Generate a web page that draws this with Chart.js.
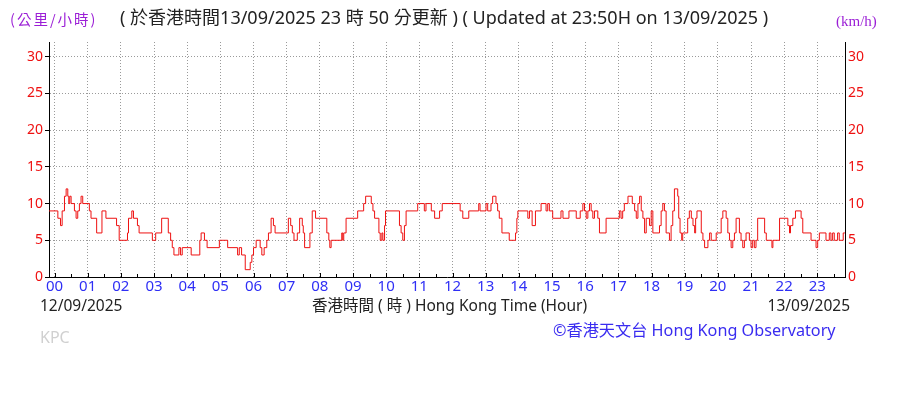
<!DOCTYPE html>
<html>
<head>
<meta charset="utf-8">
<script src="https://cdn.jsdelivr.net/npm/chart.js@4.4.0/dist/chart.umd.min.js"></script>
<style>
  html, body { margin: 0; padding: 0; background: #fff; }
  #wrap { position: relative; width: 910px; height: 395px; overflow: hidden;
          font-family: "Noto Sans", "Noto Sans CJK TC", sans-serif; }
  #chart { position: absolute; left: 0; top: 0; }
  .txt { position: absolute; white-space: nowrap; line-height: 1; }
  #unitL { left: 10px; top: 12px; font-size: 14.5px; letter-spacing: 2px; color: #9b1fd6; font-family: "Noto Sans CJK TC", sans-serif; }
  #unitR { left: 836px; top: 14px; font-size: 15px; color: #9b1fd6; font-family: "Liberation Serif", serif; }
  #title { left: 120px; top: 8px; font-size: 18px; color: #222; }
  #dateL { left: 40px; top: 298px; font-size: 15.5px; color: #222; }
  #axisName { left: 312px; top: 298px; font-size: 15.5px; color: #222; }
  #dateR { right: 60px; top: 298px; font-size: 15.5px; color: #222; }
  #kpc { left: 40px; top: 329px; font-size: 16px; color: #d0d0d0; }
  #copy { left: 553px; top: 322px; font-size: 16.2px; color: #3a2cf0; }
</style>
</head>
<body>
<div id="wrap">
  <canvas id="chart" width="910" height="395"></canvas>
  <div class="txt" id="unitL">(公里/小時)</div>
  <div class="txt" id="unitR">(km/h)</div>
  <div class="txt" id="title">( 於香港時間13/09/2025 23 時 50 分更新 ) ( Updated at 23:50H on 13/09/2025 )</div>
  <div class="txt" id="dateL">12/09/2025</div>
  <div class="txt" id="axisName">香港時間 ( 時 ) Hong Kong Time (Hour)</div>
  <div class="txt" id="dateR">13/09/2025</div>
  <div class="txt" id="kpc">KPC</div>
  <div class="txt" id="copy">©香港天文台 Hong Kong Observatory</div>
</div>
<script>
// wind speed (km/h), each value holds from its time (hours) until the next one
const hours = [
  -0.17, 0.1, 0.18, 0.23, 0.3, 0.35, 0.4, 0.43, 0.46, 0.5, 0.6, 0.65, 0.7, 0.75, 0.8, 0.85,
  1.05, 1.1, 1.27, 1.43, 1.55, 1.87, 1.95, 2.2, 2.23, 2.33, 2.38, 2.5, 2.55, 2.95,
  3.05, 3.23, 3.43, 3.5, 3.55, 3.6, 3.75, 3.8, 3.85, 4.12, 4.38, 4.42, 4.52, 4.6, 4.97,
  5.22, 5.52, 5.57, 5.64, 5.75, 5.9, 5.95, 6.0, 6.08, 6.2, 6.25, 6.32, 6.4, 6.45, 6.53,
  6.6, 6.65, 7.05, 7.12, 7.17, 7.22, 7.32, 7.39, 7.47, 7.5, 7.54, 7.7, 7.77, 7.87,
  8.21, 8.27, 8.3, 8.34, 8.66, 8.69, 8.72, 8.79, 9.14, 9.32, 9.38, 9.55, 9.6, 9.65,
  9.78, 9.82, 9.87, 9.9, 9.95, 9.98, 10.4, 10.45, 10.5, 10.55, 10.6, 10.95, 11.15, 11.2,
  11.36, 11.46, 11.61, 11.69, 12.23, 12.31, 12.49, 12.79, 12.83, 13.01, 13.06, 13.16,
  13.21, 13.31, 13.36, 13.41, 13.49, 13.71, 13.9, 13.94, 13.97, 14.27, 14.32, 14.4,
  14.5, 14.67, 14.82, 14.87, 14.92, 15.02, 15.27, 15.33, 15.51, 15.73, 15.85, 15.93,
  15.98, 16.03, 16.08, 16.13, 16.18, 16.23, 16.28, 16.38, 16.43, 16.63, 17.03, 17.08,
  17.13, 17.18, 17.29, 17.42, 17.49, 17.54, 17.59, 17.64, 17.69, 17.74, 17.79, 17.84,
  17.94, 17.99, 18.04, 18.24, 18.29, 18.34, 18.39, 18.44, 18.54, 18.59, 18.64, 18.69,
  18.79, 18.82, 18.86, 18.91, 18.94, 19.09, 19.14, 19.2, 19.25, 19.3, 19.33, 19.37,
  19.5, 19.55, 19.6, 19.7, 19.75, 19.8, 19.95, 20.1, 20.15, 20.25, 20.3, 20.35, 20.4,
  20.45, 20.5, 20.55, 20.65, 20.7, 20.75, 20.8, 20.85, 20.95, 21.0, 21.05, 21.1, 21.15,
  21.2, 21.41, 21.46, 21.63, 21.66, 21.86, 22.11, 22.16, 22.19, 22.26, 22.34, 22.51,
  22.56, 22.81, 22.96, 23.01, 23.06, 23.26, 23.36, 23.41, 23.46, 23.51, 23.61, 23.66,
  23.78, 23.83
];
const speeds = [
  9, 8, 7, 9, 11, 12, 11, 10, 11, 10, 9, 8, 9, 10, 11, 10,
  9, 8, 6, 9, 8, 7, 5, 6, 8, 9, 8, 7, 6, 5,
  6, 8, 6, 5, 4, 3, 4, 3, 4, 3, 5, 6, 5, 4, 5,
  4, 3, 4, 3, 1, 2, 3, 4, 5, 4, 3, 4, 5, 6, 8,
  7, 6, 8, 7, 6, 5, 6, 8, 7, 6, 4, 6, 9, 8,
  6, 5, 4, 5, 6, 5, 6, 8, 9, 10, 11, 10, 9, 8,
  6, 5, 6, 5, 7, 9, 7, 6, 5, 7, 9, 10, 9, 10,
  9, 8, 9, 10, 9, 8, 9, 10, 9, 10, 9, 10,
  11, 10, 9, 8, 6, 5, 6, 8, 9, 8, 9, 7,
  9, 10, 9, 10, 9, 8, 9, 8, 9, 8, 9, 10,
  9, 8, 9, 10, 9, 8, 9, 8, 6, 8, 9, 8,
  9, 10, 11, 10, 9, 8, 10, 11, 9, 8, 6, 8,
  7, 9, 6, 7, 9, 10, 9, 6, 5, 7, 9, 12,
  11, 8, 6, 5, 6, 8, 9, 8, 7, 6, 8, 9,
  6, 5, 4, 5, 6, 5, 6, 8, 9, 8, 6, 5, 4,
  5, 6, 8, 6, 5, 4, 5, 6, 5, 4, 5, 4, 5,
  8, 6, 5, 4, 5, 8, 7, 6, 7, 8, 9, 8,
  6, 5, 4, 5, 6, 5, 6, 5, 6, 5, 6, 5,
  6, 6
];
const hourLabels = ['00','01','02','03','04','05','06','07','08','09','10','11',
  '12','13','14','15','16','17','18','19','20','21','22','23'];
const speedTicks = [0, 5, 10, 15, 20, 25, 30];

const points = hours.map((h, i) => ({ x: h, y: speeds[i] }));

const red = '#ee1111';
const gridColor = '#9a9a9a';

// small tick marks pointing into the plot along the time axis
const innerTicks = {
  id: 'innerTicks',
  afterDraw(chart) {
    const { ctx, scales: { x }, chartArea } = chart;
    ctx.save();
    ctx.strokeStyle = '#000';
    ctx.lineWidth = 1;
    for (let i = 0; i < hourLabels.length * 2; i++) {
      const px = Math.round(x.getPixelForValue(i / 2)) + 0.5;
      const len = i % 2 === 0 ? 4 : 3;
      ctx.beginPath();
      ctx.moveTo(px, chartArea.bottom);
      ctx.lineTo(px, chartArea.bottom - len);
      ctx.stroke();
    }
    ctx.restore();
  }
};

function fixTicks(scale) {
  scale.ticks = speedTicks.map(v => ({ value: v }));
}

new Chart(document.getElementById('chart'), {
  type: 'line',
  data: {
    datasets: [{
      data: points,
      borderColor: red,
      borderWidth: 1,
      pointRadius: 0,
      stepped: true,
      fill: false
    }]
  },
  options: {
    responsive: false,
    animation: false,
    layout: { padding: { top: 42, left: 0, right: 0, bottom: 0 } },
    plugins: { legend: { display: false }, tooltip: { enabled: false } },
    scales: {
      x: {
        type: 'linear',
        min: -10 / 60,
        max: 23 + 50 / 60,
        afterBuildTicks: (s) => { s.ticks = hourLabels.map((_, i) => ({ value: i })); },
        afterFit: (s) => { s.height = 118; },
        grid: { color: gridColor, lineWidth: 1, drawTicks: false },
        border: { display: true, color: '#000', width: 1, dash: [1, 2] },
        ticks: {
          color: '#2f2ff5',
          padding: 1,
          maxRotation: 0,
          autoSkip: false,
          font: { size: 15, family: '"Noto Sans", sans-serif' },
          callback: (v) => hourLabels[v]
        }
      },
      y: {
        position: 'left',
        min: 0,
        max: 32,
        afterBuildTicks: fixTicks,
        afterFit: (s) => { s.width = 49; },
        grid: { color: gridColor, lineWidth: 1, tickLength: 4, tickColor: '#000' },
        border: { display: true, color: '#000', width: 1, dash: [1, 2] },
        ticks: { color: red, padding: 2, font: { size: 14, family: '"Noto Sans", sans-serif' } }
      },
      y2: {
        position: 'right',
        min: 0,
        max: 32,
        afterBuildTicks: fixTicks,
        afterFit: (s) => { s.width = 65; },
        grid: { display: true, drawOnChartArea: false, drawTicks: false },
        border: { display: true, color: '#000', width: 1 },
        ticks: { color: red, padding: 3, font: { size: 14, family: '"Noto Sans", sans-serif' } }
      }
    }
  },
  plugins: [innerTicks]
});
</script>
</body>
</html>
